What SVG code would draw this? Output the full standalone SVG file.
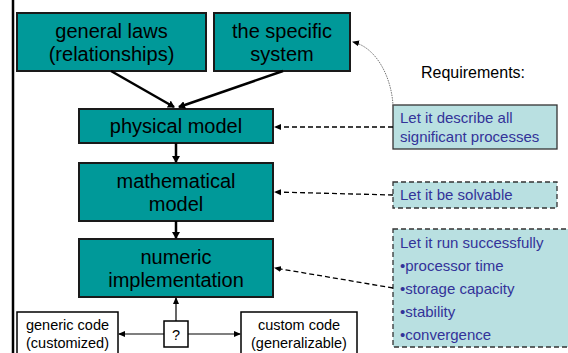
<svg xmlns="http://www.w3.org/2000/svg" width="568" height="353" viewBox="0 0 568 353">
<style>
.t{fill:#009999;stroke:#1a1a1a;stroke-width:2}
.tt{font-family:"Liberation Sans",Arial,sans-serif;font-size:20px;fill:#000;text-anchor:middle}
.r{fill:#b9e0e1;stroke:#333;stroke-width:1.3}
.rd{fill:#b9e0e1;stroke:#333;stroke-width:1.3;stroke-dasharray:5,3}
.rt{font-family:"Liberation Sans",Arial,sans-serif;font-size:15px;fill:#333399}
.w{fill:#fff;stroke:#000;stroke-width:1.5}
.wt{font-family:"Liberation Sans",Arial,sans-serif;font-size:14.5px;fill:#000;text-anchor:middle}
.a{stroke:#000;stroke-width:2.5;fill:none}
.d{stroke:#000;stroke-width:1.3;fill:none;stroke-dasharray:5,3}
.s{stroke:#000;stroke-width:1.2;fill:none}
</style>
<defs>
<marker id="ah" markerWidth="8" markerHeight="8" refX="6" refY="4" orient="auto" markerUnits="userSpaceOnUse"><path d="M0,0 L7,4 L0,8 Z" fill="#000"/></marker>
<marker id="sh" markerWidth="7" markerHeight="7" refX="6" refY="3.5" orient="auto" markerUnits="userSpaceOnUse"><path d="M0,0.5 L7,3.5 L0,6.5 Z" fill="#000"/></marker>
</defs>
<line x1="13" y1="0" x2="13" y2="353" stroke="#000" stroke-width="2.5"/>
<g id="general-laws"><rect class="t" x="17" y="13" width="189" height="58"/><text class="tt" x="111.5" y="38">general laws</text><text class="tt" x="111.5" y="61">(relationships)</text></g>
<g id="specific-system"><rect class="t" x="214" y="13" width="136" height="58"/><text class="tt" x="282" y="38">the specific</text><text class="tt" x="282" y="61">system</text></g>
<g id="physical-model"><rect class="t" x="79" y="109" width="194" height="34"/><text class="tt" x="176" y="133">physical model</text></g>
<g id="mathematical-model"><rect class="t" x="79" y="163" width="194" height="58"/><text class="tt" x="176" y="188">mathematical</text><text class="tt" x="176" y="211">model</text></g>
<g id="numeric-implementation"><rect class="t" x="79" y="239" width="194" height="58"/><text class="tt" x="176" y="264">numeric</text><text class="tt" x="176" y="287">implementation</text></g>
<g id="question"><rect class="w" x="164" y="321" width="24" height="26"/><text class="wt" x="176" y="340" font-size="16">?</text></g>
<g id="generic-code"><rect class="w" x="17" y="312" width="101" height="45"/><text class="wt" x="67.5" y="330">generic code</text><text class="wt" x="67.5" y="348">(customized)</text></g>
<g id="custom-code"><rect class="w" x="241" y="312" width="116" height="45"/><text class="wt" x="299" y="330">custom code</text><text class="wt" x="299" y="348">(generalizable)</text></g>
<g id="requirements-label"><text x="473" y="78" font-family="Liberation Sans,Arial,sans-serif" font-size="16" text-anchor="middle">Requirements:</text></g>
<g id="req-describe"><rect class="r" x="393" y="105" width="164" height="44"/><text class="rt" x="400" y="123">Let it describe all</text><text class="rt" x="400" y="142">significant processes</text></g>
<g id="req-solvable"><rect class="rd" x="393" y="182" width="164" height="26"/><text class="rt" x="400" y="200">Let it be solvable</text></g>
<g id="req-run"><rect class="rd" x="393" y="229" width="180" height="118"/><text class="rt" x="400" y="248">Let it run successfully</text><text class="rt" x="400" y="271">•processor time</text><text class="rt" x="400" y="294">•storage capacity</text><text class="rt" x="400" y="317">•stability</text><text class="rt" x="400" y="340">•convergence</text></g>
<g id="connectors">
<line class="a" x1="111" y1="71" x2="174" y2="107" marker-end="url(#ah)"/>
<line class="a" x1="283" y1="71" x2="179" y2="107" marker-end="url(#ah)"/>
<line class="a" x1="176" y1="143" x2="176" y2="162" marker-end="url(#ah)"/>
<line class="a" x1="176" y1="221" x2="176" y2="238" marker-end="url(#ah)"/>
<line class="s" x1="176" y1="321" x2="176" y2="298" marker-end="url(#sh)"/>
<line class="s" x1="164" y1="334" x2="119" y2="334" marker-end="url(#sh)"/>
<line class="s" x1="188" y1="334" x2="240" y2="334" marker-end="url(#sh)"/>
<line class="d" x1="393" y1="127" x2="275" y2="127" marker-end="url(#sh)"/>
<line class="d" x1="393" y1="195" x2="275" y2="192" marker-end="url(#sh)"/>
<line class="d" x1="393" y1="288" x2="275" y2="268" marker-end="url(#sh)"/>
<path d="M393,106 C392,80 378,48 353,42" fill="none" stroke="#666" stroke-width="0.9" stroke-dasharray="1.5,1" marker-end="url(#sh)"/>
</g>
</svg>
